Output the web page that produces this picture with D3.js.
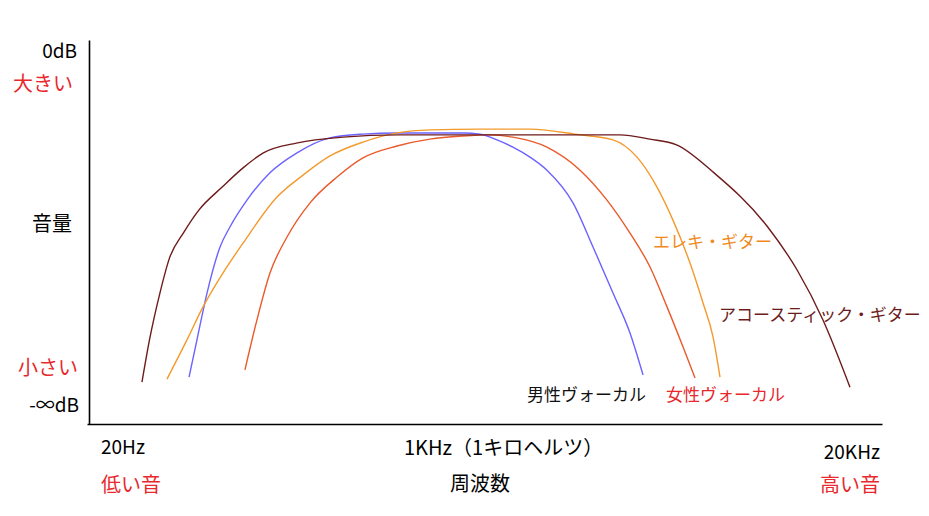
<!DOCTYPE html>
<html><head><meta charset="utf-8">
<script src="https://cdn.jsdelivr.net/npm/d3@7"></script>
<style>
html,body{margin:0;padding:0;background:#fff;}
svg text{font-family:"Noto Sans CJK JP","Noto Sans",sans-serif;}
</style></head>
<body>
<svg id="chart" width="929" height="516"></svg>
<script>
// ---- data ----
const seriesNames = ["女性ヴォーカル","男性ヴォーカル","エレキ・ギター","アコースティック・ギター"];
const acousticFreq  = [29,31,34,37,42,48,59,71,85,115,172,280,900,2000,2600,3300,4600,7400,9600,12070,15330];
const acousticLevel = [10.9,21.9,34.1,43.2,49.9,55.7,61.7,66.7,70.6,73.2,74.7,75.3,75.3,75.3,74.2,72.7,65.4,51.3,40.1,27.1,9.6];
const electricFreq  = [36.2,43.2,49.8,59.4,71,95.9,120.7,153.3,205.3,277.5,371.7,578.7,901,1404,1880,2325,2775,3197,3718,4172,4558,4850];
const electricLevel = [11.7,21.9,30.5,39.3,47.1,59.1,64.8,69.8,73.4,75.8,76.6,76.8,76.8,75.3,74.0,69.5,61.7,53.1,41.9,31.5,22.7,12.2];
const maleFreq  = [44.0,47.2,51.6,57.9,63.2,73.5,90.1,114.5,153.3,205.3,277.5,498,578.7,673,775,901,1047,1319,1575,1880,2185,2452];
const maleLevel = [12.2,21.9,34.1,46.1,51.3,58.3,65.4,70.6,74.5,75.5,75.8,75.8,75.5,74.0,72.1,69.5,66.1,57.6,46.1,34.1,23.7,12.8];
const femaleFreq  = [72.2,80.3,90.1,104.8,128.5,163.1,205.3,277.5,371.7,498,632.4,775,1047,1404,1782,2185,2609,3033,3494,3887];
const femaleLevel = [14.1,27.1,39.3,48.7,57.6,64.3,69.3,72.4,74.2,75.0,75.3,74.7,72.1,66.1,58.3,49.7,40.9,30.5,20.1,12.0];
const xTickLabels = ["20Hz","1KHz（1キロヘルツ）","20KHz"];
const yTickLabels = ["0dB","-∞dB"];
const xSubLabels  = ["低い音","周波数","高い音"];
const ySubLabels  = ["大きい","音量","小さい"];

// ---- styles ----
const lineColors  = {"アコースティック・ギター":"#6e1b1b","エレキ・ギター":"#f39a2c","男性ヴォーカル":"#6c62ff","女性ヴォーカル":"#ea5a2b"};
const labelColors = {"アコースティック・ギター":"#6e1b1b","エレキ・ギター":"#f08a1e","男性ヴォーカル":"#111","女性ヴォーカル":"#e8282c"};
const RED = "#e8282c";

const series = [
  {name:"女性ヴォーカル", f:femaleFreq, v:femaleLevel},
  {name:"男性ヴォーカル", f:maleFreq, v:maleLevel},
  {name:"エレキ・ギター", f:electricFreq, v:electricLevel},
  {name:"アコースティック・ギター", f:acousticFreq, v:acousticLevel}
];

const svg = d3.select("#chart");
const x = d3.scaleLog().domain([20,20000]).range([100,880]);
const y = d3.scaleLinear().domain([0,100]).range([424,40]);

// axes (domain lines only)
svg.append("g").attr("transform","translate(89,0)")
  .call(d3.axisLeft(y).ticks(0).tickSizeOuter(0))
  .call(g=>g.select(".domain").attr("stroke","#000").attr("stroke-width",1.6));
const xAxisScale = d3.scaleLog().domain([20,20000]).range([87,882]);
svg.append("g").attr("transform","translate(0,424)")
  .call(d3.axisBottom(xAxisScale).ticks(0).tickSizeOuter(0))
  .call(g=>g.select(".domain").attr("stroke","#000").attr("stroke-width",1.6));

// curves
const line = d3.line().x(d=>x(d[0])).y(d=>y(d[1])).curve(d3.curveMonotoneX);
series.forEach(s=>{
  const pts = s.f.map((f,i)=>[f,s.v[i]]);
  svg.append("path").datum(pts).attr("d",line)
    .attr("fill","none").attr("stroke",lineColors[s.name]).attr("stroke-width",1.4);
});

// series labels
const seriesLabelPos = {
  "エレキ・ギター":[653,248],
  "アコースティック・ギター":[719,321],
  "男性ヴォーカル":[527,401],
  "女性ヴォーカル":[666,401]
};
seriesNames.forEach(n=>{
  svg.append("text").attr("x",seriesLabelPos[n][0]).attr("y",seriesLabelPos[n][1])
    .attr("font-size",17).attr("fill",labelColors[n]).text(n);
});

// y-axis texts
const yTickPos = [[77,58],[79,412]];
yTickLabels.forEach((t,i)=>{
  svg.append("text").attr("x",yTickPos[i][0]).attr("y",yTickPos[i][1])
    .attr("text-anchor","end").attr("font-size",19).attr("fill","#000").text(t);
});
const ySubPos = [[73,91,RED],[72,231,"#000"],[78,375,RED]];
ySubLabels.forEach((t,i)=>{
  svg.append("text").attr("x",ySubPos[i][0]).attr("y",ySubPos[i][1])
    .attr("text-anchor","end").attr("font-size",20).attr("fill",ySubPos[i][2]).text(t);
});

// x-axis texts
const xTickAnchor = ["start","start","end"];
const xTickX = [101, 404, 880];
const xTickY = [454, 455, 459];
const xTickSize = [19, 20, 19];
xTickLabels.forEach((t,i)=>{
  svg.append("text").attr("x",xTickX[i]).attr("y",xTickY[i])
    .attr("text-anchor",xTickAnchor[i]).attr("font-size",xTickSize[i]).attr("fill","#000").text(t);
});
const xSubPos = [[101,492,"start",RED],[480,491,"middle","#000"],[880,492,"end",RED]];
xSubLabels.forEach((t,i)=>{
  svg.append("text").attr("x",xSubPos[i][0]).attr("y",xSubPos[i][1])
    .attr("text-anchor",xSubPos[i][2]).attr("font-size",20).attr("fill",xSubPos[i][3]).text(t);
});
</script>
</body></html>
